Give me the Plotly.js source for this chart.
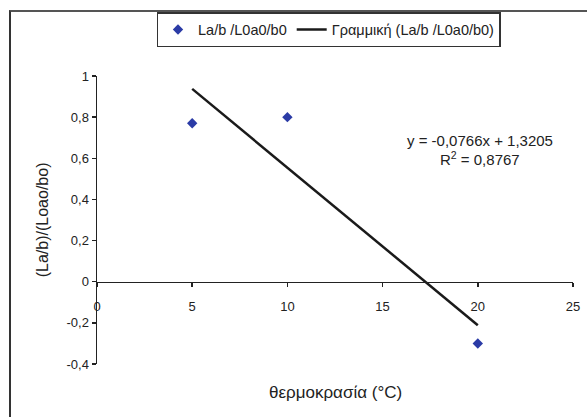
<!DOCTYPE html>
<html>
<head>
<meta charset="utf-8">
<script src="https://cdn.plot.ly/plotly-3.0.1.min.js"></script>
<style>
html,body{margin:0;padding:0;background:#ffffff;}
#wrap{position:relative;width:587px;height:417px;overflow:hidden;}
#frame{position:absolute;left:9px;top:10px;width:700px;height:600px;border-left:2px solid #333;border-top:2px solid #555;box-sizing:border-box;pointer-events:none;z-index:5;}
#chart{position:absolute;left:0;top:0;width:587px;height:417px;}
</style>
</head>
<body>
<div id="wrap">
<div id="chart"></div>
<div id="frame"></div>
</div>
<script>
// Data
const temperature = [5, 10, 20];
const ratio = [0.77, 0.80, -0.30];
const seriesName = "La/b /L0a0/b0";
const trendName = "Γραμμική (La/b /L0a0/b0)";
const trendSlope = -0.0766;
const trendIntercept = 1.3205;
const rSquared = 0.8767;
const xTitle = "θερμοκρασία (°C)";
const yTitle = "(La/b)/(Loao/bo)";
const xTickValues = [0, 5, 10, 15, 20, 25];
const xTickLabels = ["0", "5", "10", "15", "20", "25"];
const yTickValues = [-0.4, -0.2, 0, 0.2, 0.4, 0.6, 0.8, 1];
const yTickLabels = ["-0,4", "-0,2", "0", "0,2", "0,4", "0,6", "0,8", "1"];

const fmt = (v, d) => v.toFixed(d).replace('.', ',');

const tMin = Math.min(...temperature);
const tMax = Math.max(...temperature);
const trendX = [tMin, tMax];
const trendY = trendX.map(x => trendSlope * x + trendIntercept);

const font = "Liberation Sans, Arial, sans-serif";

const traces = [
  {
    x: temperature, y: ratio, type: 'scatter', mode: 'markers', name: seriesName,
    marker: {symbol: 'diamond', size: 8, color: '#2b3ba6'}
  },
  {
    x: trendX, y: trendY, type: 'scatter', mode: 'lines', name: trendName,
    line: {color: '#1a1a1a', width: 2.5}
  }
];

const yMin = -0.4, yMax = 1;

const layout = {
  width: 587, height: 417,
  margin: {l: 97, r: 14, t: 76, b: 53},
  paper_bgcolor: '#ffffff', plot_bgcolor: '#ffffff',
  separators: ', ',
  font: {family: font, size: 13, color: '#222'},
  showlegend: true,
  legend: {
    orientation: 'h', x: 0.125, y: 1.222, xanchor: 'left', yanchor: 'top',
    bordercolor: '#333', borderwidth: 1.5, bgcolor: '#ffffff',
    font: {family: font, size: 14.5, color: '#222'},
    itemwidth: 30, tracegroupgap: 0
  },
  xaxis: {
    range: [0, 25], tickmode: 'array', tickvals: xTickValues, ticktext: xTickLabels,
    anchor: 'free', position: (0 - yMin) / (yMax - yMin),
    showline: true, linecolor: '#222', linewidth: 1.5,
    ticks: 'outside', ticklen: 4, tickcolor: '#222', tickwidth: 1.5,
    ticklabelstandoff: 8,
    showgrid: false, zeroline: false,
    tickfont: {family: font, size: 13, color: '#222'}
  },
  yaxis: {
    range: [yMin, yMax], tickmode: 'array', tickvals: yTickValues, ticktext: yTickLabels,
    showline: true, linecolor: '#222', linewidth: 1.5,
    ticks: 'outside', ticklen: 4, tickcolor: '#222', tickwidth: 1.5,
    showgrid: false, zeroline: false,
    tickfont: {family: font, size: 13, color: '#222'}
  },
  annotations: [
    {
      xref: 'paper', yref: 'paper', x: 0.5, y: -0.1, xanchor: 'center', yanchor: 'middle',
      text: xTitle, showarrow: false, font: {family: font, size: 17, color: '#222'}
    },
    {
      xref: 'paper', yref: 'paper', x: -0.115, y: 0.5, xanchor: 'center', yanchor: 'middle',
      text: yTitle, textangle: -90, showarrow: false, font: {family: font, size: 16, color: '#222'}
    },
    {
      xref: 'paper', yref: 'paper', x: 0.805, y: 0.777, xanchor: 'center', yanchor: 'middle',
      text: 'y = ' + fmt(trendSlope, 4) + 'x + ' + fmt(trendIntercept, 4),
      showarrow: false, font: {family: font, size: 15, color: '#222'}
    },
    {
      xref: 'paper', yref: 'paper', x: 0.805, y: 0.712, xanchor: 'center', yanchor: 'middle',
      text: 'R<sup>2</sup> = ' + fmt(rSquared, 4),
      showarrow: false, font: {family: font, size: 15, color: '#222'}
    }
  ]
};

Plotly.newPlot('chart', traces, layout, {displayModeBar: false, staticPlot: true});
</script>
</body>
</html>
